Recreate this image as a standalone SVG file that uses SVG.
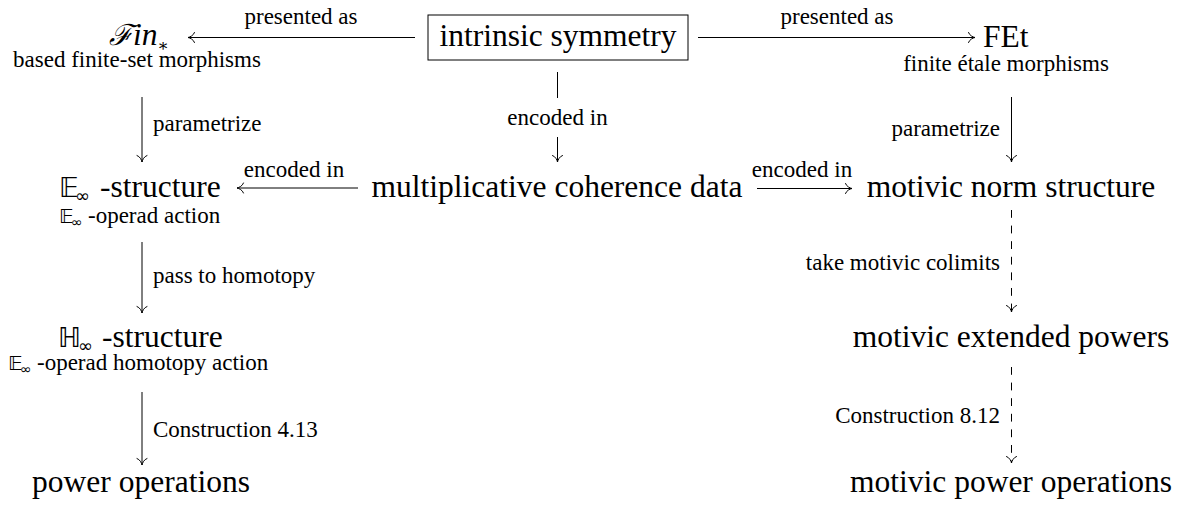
<svg xmlns="http://www.w3.org/2000/svg" width="1189" height="508" viewBox="0 0 1189 508">
  <style>
    .big { font-family: 'Liberation Serif', 'DejaVu Serif', serif; font-size: 31.5px; fill: #000; }
    .small { font-family: 'Liberation Serif', 'DejaVu Serif', serif; font-size: 23px; fill: #000; }
    .sym { font-family: 'DejaVu Sans', 'DejaVu Serif', sans-serif; }
    .edge { stroke: #000; stroke-width: 1; fill: none; marker-end: url(#to); }
    .dash { stroke-dasharray: 7.8 7.8; }
  </style>
  <defs>
    <marker id="to" viewBox="-8 -6 10 12" refX="0" refY="0" markerWidth="10" markerHeight="12" markerUnits="userSpaceOnUse" orient="auto">
      <path d="M -6.5 -5 C -5.5 -2 -2 -0.4 0 0 C -2 0.4 -5.5 2 -6.5 5" stroke="#000" stroke-width="1" fill="none" stroke-linecap="round"/>
    </marker>
  </defs>

  <!-- top row -->
  <g id="fin">
    <text class="big" y="45"><tspan x="109" font-family="DejaVu Serif, serif" font-style="italic" font-size="29">ℱ</tspan><tspan font-style="italic">in</tspan><tspan font-size="17" dy="6">∗</tspan></text>
    <text class="small" x="137" y="67" text-anchor="middle">based finite-set morphisms</text>
  </g>
  <g id="intrinsic">
    <rect x="428" y="15" width="260" height="45" fill="none" stroke="#000" stroke-width="1"/>
    <text class="big" x="558" y="46" text-anchor="middle">intrinsic symmetry</text>
  </g>
  <g id="fet">
    <text class="big" x="983" y="47">FEt</text>
    <text class="small" x="1006" y="71" text-anchor="middle">finite étale morphisms</text>
  </g>

  <!-- second row -->
  <g id="einf">
    <text class="big" y="197"><tspan x="59" class="sym" font-size="27">𝔼</tspan><tspan x="75" class="sym" font-size="18" dy="5">∞</tspan><tspan x="100" dy="-5">-structure</tspan></text>
    <text class="small" y="223"><tspan x="59" class="sym" font-size="20">𝔼</tspan><tspan x="71" class="sym" font-size="14" dy="4">∞</tspan><tspan x="88" dy="-4">-operad action</tspan></text>
  </g>
  <g id="coherence">
    <text class="big" x="557" y="197" text-anchor="middle">multiplicative coherence data</text>
  </g>
  <g id="norm">
    <text class="big" x="1011" y="197" text-anchor="middle">motivic norm structure</text>
  </g>

  <!-- third row -->
  <g id="hinf">
    <text class="big" y="347"><tspan x="58" class="sym" font-size="27">ℍ</tspan><tspan x="78" class="sym" font-size="18" dy="5">∞</tspan><tspan x="102" dy="-5">-structure</tspan></text>
    <text class="small" y="370"><tspan x="8" class="sym" font-size="20">𝔼</tspan><tspan x="20" class="sym" font-size="14" dy="4">∞</tspan><tspan x="37" dy="-4">-operad homotopy action</tspan></text>
  </g>
  <g id="extended">
    <text class="big" x="1011" y="347" text-anchor="middle">motivic extended powers</text>
  </g>

  <!-- bottom row -->
  <g id="power">
    <text class="big" x="141" y="492" text-anchor="middle">power operations</text>
  </g>
  <g id="motivic-power">
    <text class="big" x="1011" y="492" text-anchor="middle">motivic power operations</text>
  </g>

  <!-- connectors -->
  <g id="connectors">
    <path class="edge" d="M 415 37.5 H 188"/>
    <text class="small" x="301" y="24" text-anchor="middle">presented as</text>

    <path class="edge" d="M 698 37.5 H 975"/>
    <text class="small" x="837" y="24" text-anchor="middle">presented as</text>

    <path class="edge" d="M 142 97 V 162"/>
    <text class="small" x="153" y="131">parametrize</text>

    <path d="M 557.5 72 V 98" stroke="#000" stroke-width="1"/>
    <path class="edge" d="M 557.5 137 V 162"/>
    <text class="small" x="557.5" y="125" text-anchor="middle">encoded in</text>

    <path class="edge" d="M 1011.5 97 V 162"/>
    <text class="small" x="1000" y="136" text-anchor="end">parametrize</text>

    <path class="edge" d="M 358 188 H 237"/>
    <text class="small" x="294" y="177" text-anchor="middle">encoded in</text>

    <path class="edge" d="M 757 188.5 H 852"/>
    <text class="small" x="802" y="177" text-anchor="middle">encoded in</text>

    <path class="edge" d="M 142 242 V 313"/>
    <text class="small" x="153" y="283">pass to homotopy</text>

    <path class="edge dash" d="M 1011.5 210 V 312"/>
    <text class="small" x="1000" y="270" text-anchor="end">take motivic colimits</text>

    <path class="edge" d="M 142 392 V 465"/>
    <text class="small" x="153" y="437">Construction 4.13</text>

    <path class="edge dash" d="M 1011.5 367 V 463"/>
    <text class="small" x="1000" y="423" text-anchor="end">Construction 8.12</text>
  </g>
</svg>
